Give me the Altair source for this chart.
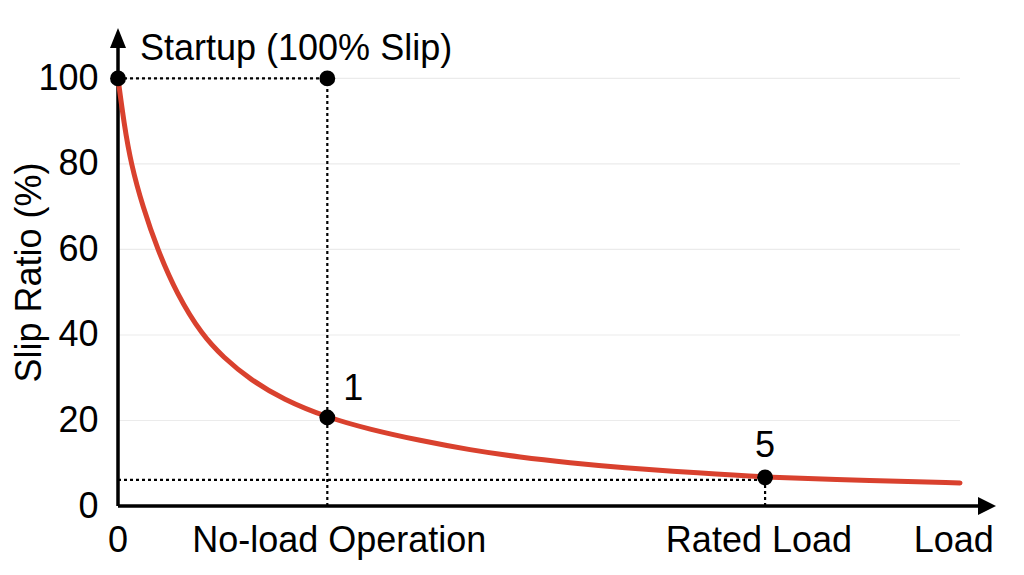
import altair as alt
import pandas as pd

# ---- data ----
load = [0, 0.68, 1.48, 2.85, 4.5, 6.69, 9.57, 11.99, 15.03, 18.83, 23.84,
        28.7, 34.4, 40.1, 45.8, 51.5, 57.2, 66.3, 73.7, 86.0, 95.9]
slip = [100, 89.5, 80, 69.8, 60, 49.6, 40, 34.8, 29.6, 24.9, 20.7,
        17.9, 15.3, 13.1, 11.4, 10.1, 9.0, 7.7, 6.7, 5.9, 5.4]

y_ticks = [0, 20, 40, 60, 80, 100]
grid_values = [20, 40, 60, 80, 100]
x_label_text = ["0", "No-load Operation", "Rated Load", "Load"]
x_label_pos = [0, 25.2, 73.0, 95.2]

noload_x = 23.84
rated_x = 73.7
noload_slip = 20.7
rated_slip = 6.7
rated_guide = 6.1
grid_end = 95.9
x_end = 100
y_end = 111.8

point_x = [0, noload_x, noload_x, rated_x]
point_y = [100, 100, noload_slip, rated_slip]

ann_text = ["1", "5"]
ann_x = [noload_x, rated_x]
ann_y = [noload_slip, rated_slip]

startup_text = ["Startup (100% Slip)"]

FONT = "Liberation Sans"
RED = "#d9412e"

xscale = alt.Scale(domain=[0, x_end], nice=False, zero=False)
yscale = alt.Scale(domain=[0, y_end], nice=False, zero=False)
yaxis = alt.Axis(values=y_ticks, labelFontSize=36, labelFont=FONT, labelColor="black",
                 labelPadding=20, labelOverlap=False, ticks=False, domain=False, grid=False,
                 title="Slip Ratio (%)", titleFontSize=36, titleFont=FONT,
                 titleFontWeight="normal", titleColor="black", titleX=-89, titleY=244,
                 titleAngle=270, titleAlign="center", titleBaseline="middle")


def X(f):
    return alt.X(f, type="quantitative", scale=xscale, axis=None)


def Y(f):
    return alt.Y(f, type="quantitative", scale=yscale, axis=yaxis, title="Slip Ratio (%)")


curve_df = pd.DataFrame({"x": load, "y": slip})
grid_df = pd.DataFrame({"y": grid_values, "x0": [0] * len(grid_values),
                        "x1": [grid_end] * len(grid_values)})
hguide_df = pd.DataFrame({"x0": [0, 0], "x1": [noload_x, rated_x], "y": [100, rated_guide]})
vguide_df = pd.DataFrame({"x": [noload_x, rated_x], "y0": [0, 0], "y1": [100, rated_slip]})
xaxis_df = pd.DataFrame({"x0": [0], "x1": [x_end - 1.5], "y": [0]})
yaxis_df = pd.DataFrame({"x": [0], "y0": [0], "y1": [y_end - 3]})
xarrow_df = pd.DataFrame({"x": [x_end], "y": [0]})
yarrow_df = pd.DataFrame({"x": [0], "y": [y_end]})
pts_df = pd.DataFrame({"x": point_x, "y": point_y})
ann_df = pd.DataFrame({"x": ann_x, "y": ann_y, "t": ann_text})
xlab_df = pd.DataFrame({"x": x_label_pos, "y": [0] * len(x_label_pos), "t": x_label_text})
start_df = pd.DataFrame({"x": [point_x[0]], "y": [point_y[0]], "t": startup_text})

grid = alt.Chart(grid_df).mark_rule(color="#ebebeb", strokeWidth=1.2).encode(
    x=X("x0"), x2="x1", y=Y("y"))
hguide = alt.Chart(hguide_df).mark_rule(color="black", strokeWidth=2.2, strokeDash=[3, 3]).encode(
    x=X("x0"), x2="x1", y=Y("y"))
vguide = alt.Chart(vguide_df).mark_rule(color="black", strokeWidth=2.2, strokeDash=[3, 3]).encode(
    x=X("x"), y=Y("y0"), y2="y1")
xaxis_line = alt.Chart(xaxis_df).mark_rule(color="black", strokeWidth=3.5).encode(
    x=X("x0"), x2="x1", y=Y("y"))
yaxis_line = alt.Chart(yaxis_df).mark_rule(color="black", strokeWidth=3.5).encode(
    x=X("x"), y=Y("y0"), y2="y1")
curve = alt.Chart(curve_df).mark_line(color=RED, strokeWidth=5, interpolate="basis",
                                      strokeCap="round").encode(x=X("x"), y=Y("y"))
pts = alt.Chart(pts_df).mark_point(filled=True, color="black", size=250, opacity=1).encode(
    x=X("x"), y=Y("y"))
xarrow = alt.Chart(xarrow_df).mark_point(shape="M0,0 L-1,-0.5 L-1,0.5 Z", filled=True,
                                         color="black", size=1296, opacity=1).encode(
    x=X("x"), y=Y("y"))
yarrow = alt.Chart(yarrow_df).mark_point(shape="M0,0 L-0.4,1 L0.4,1 Z", filled=True,
                                         color="black", size=1600, opacity=1).encode(
    x=X("x"), y=Y("y"))
ann1 = alt.Chart(ann_df.iloc[[0]]).mark_text(font=FONT, fontSize=36, color="black", align="center",
                                              baseline="alphabetic", dx=26, dy=-17).encode(
    x=X("x"), y=Y("y"), text="t:N")
ann5 = alt.Chart(ann_df.iloc[[1]]).mark_text(font=FONT, fontSize=36, color="black", align="center",
                                              baseline="alphabetic", dy=-20).encode(
    x=X("x"), y=Y("y"), text="t:N")
xlab = alt.Chart(xlab_df).mark_text(font=FONT, fontSize=36, color="black", align="center",
                                    baseline="alphabetic", dy=46).encode(
    x=X("x"), y=Y("y"), text="t:N")
start = alt.Chart(start_df).mark_text(font=FONT, fontSize=36, color="black", align="left",
                                      baseline="alphabetic", dx=22, dy=-18).encode(
    x=X("x"), y=Y("y"), text="t:N")

chart = alt.layer(
    grid, hguide, vguide, xaxis_line, yaxis_line, curve, pts, xarrow, yarrow,
    ann1, ann5, xlab, start
).properties(
    width=878, height=478,
    autosize=alt.AutoSizeParams(type="none"),
    padding={"left": 110, "top": 20, "right": 20, "bottom": 60},
    background="white"
).configure_view(stroke=None)

chart.save("out.html", embed_options={"renderer": "svg", "actions": False})
